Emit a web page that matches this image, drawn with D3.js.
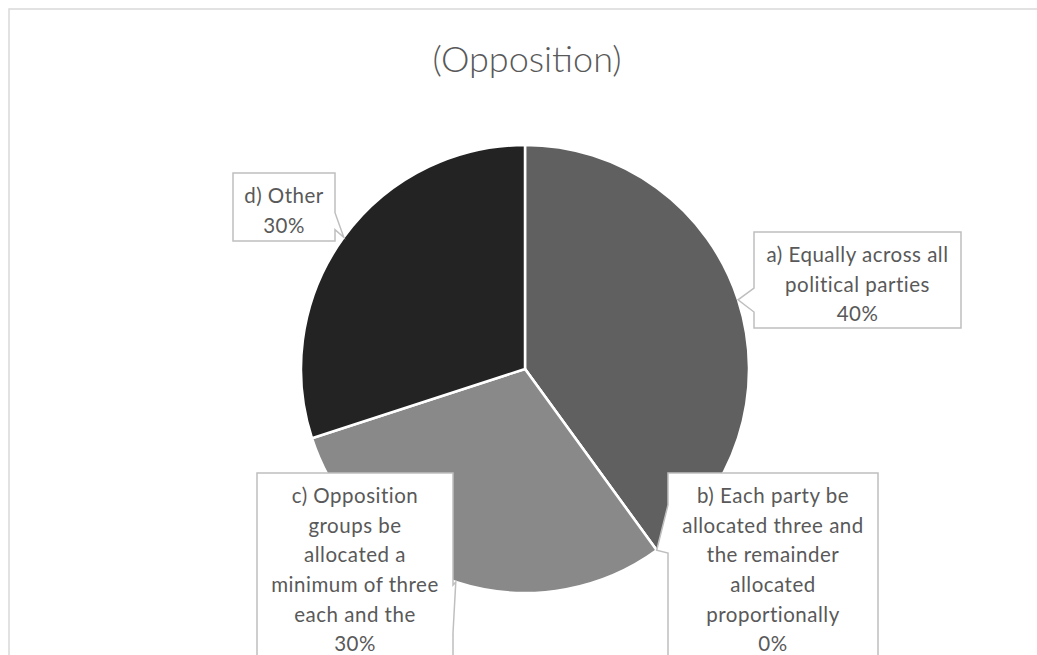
<!DOCTYPE html>
<html>
<head>
<meta charset="utf-8">
<script src="https://cdn.jsdelivr.net/npm/d3@7"></script>
<style>
  html, body { margin: 0; padding: 0; background: #ffffff; }
  svg { display: block; }
  text { font-family: "Lato", "Open Sans", sans-serif; }
</style>
</head>
<body>
<svg id="chart" width="1037" height="655"></svg>
<script>
// ---- data ----
const title = "(Opposition)";
const categories = [
  "a) Equally across all political parties",
  "b) Each party be allocated three and the remainder allocated proportionally",
  "c) Opposition groups be allocated a minimum of three each and the",
  "d) Other"
];
const values = [40, 0, 30, 30];
const percentLabels = ["40%", "0%", "30%", "30%"];
const labelLines = [
  ["a) Equally across all", "political parties"],
  ["b) Each party be", "allocated three and", "the remainder", "allocated", "proportionally"],
  ["c) Opposition", "groups be", "allocated a", "minimum of three", "each and the"],
  ["d) Other"]
];

// ---- layout / style ----
const W = 1037, H = 655;
const cx = 525, cy = 369, R = 224;
const sliceColors = ["#606060", "#7a7a7a", "#898989", "#232323"];
const labelBoxes = [
  {x: 754, y: 232, w: 207, h: 96},
  {x: 668, y: 473, w: 210, h: 192},
  {x: 257, y: 473, w: 196, h: 192},
  {x: 233, y: 173, w: 102, h: 68}
];

const svg = d3.select("#chart");

// outer chart border
svg.append("rect")
  .attr("x", 9).attr("y", 9)
  .attr("width", W + 20).attr("height", H + 20)
  .attr("fill", "#ffffff")
  .attr("stroke", "#d9d9d9").attr("stroke-width", 1.5);

// title
svg.append("text")
  .attr("x", 527).attr("y", 72)
  .attr("text-anchor", "middle")
  .attr("font-size", 36)
  .attr("font-weight", 300)
  .attr("fill", "#595959")
  .text(title);

// pie
const pie = d3.pie().sort(null).value(d => d);
const arcs = pie(values);
const arc = d3.arc().innerRadius(0).outerRadius(R);

const g = svg.append("g").attr("transform", `translate(${cx},${cy})`);
g.selectAll("path.slice")
  .data(arcs)
  .join("path")
  .attr("class", "slice")
  .attr("d", arc)
  .attr("fill", (d, i) => sliceColors[i])
  .attr("stroke", "#ffffff")
  .attr("stroke-width", 2.5)
  .attr("stroke-linejoin", "round");

// callouts (OOXML wedgeRectCallout geometry)
function calloutPath(b, tx, ty) {
  const l = b.x, t = b.y, r = b.x + b.w, bt = b.y + b.h;
  const w = b.w, h = b.h;
  const hc = l + w / 2, vc = t + h / 2;
  const dxPos = tx - hc, dyPos = ty - vc;
  const dq = dxPos * h / w;
  const dz = Math.abs(dyPos) - Math.abs(dq);
  const x1 = l + w * (dxPos > 0 ? 7 : 2) / 12;
  const x2 = l + w * (dxPos > 0 ? 10 : 5) / 12;
  const y1 = t + h * (dyPos > 0 ? 7 : 2) / 12;
  const y2 = t + h * (dyPos > 0 ? 10 : 5) / 12;
  const p = d3.path();
  p.moveTo(l, t);
  if (dz > 0 && dyPos < 0) { p.lineTo(x1, t); p.lineTo(tx, ty); p.lineTo(x2, t); }
  p.lineTo(r, t);
  if (dz <= 0 && dxPos > 0) { p.lineTo(r, y1); p.lineTo(tx, ty); p.lineTo(r, y2); }
  p.lineTo(r, bt);
  if (dz > 0 && dyPos > 0) { p.lineTo(x2, bt); p.lineTo(tx, ty); p.lineTo(x1, bt); }
  p.lineTo(l, bt);
  if (dz <= 0 && dxPos < 0) { p.lineTo(l, y2); p.lineTo(tx, ty); p.lineTo(l, y1); }
  p.closePath();
  return p.toString();
}

const labelsG = svg.append("g");
arcs.forEach((a, i) => {
  const mid = (a.startAngle + a.endAngle) / 2;
  const tx = cx + R * Math.sin(mid);
  const ty = cy - R * Math.cos(mid);
  const b = labelBoxes[i];
  labelsG.append("path")
    .attr("d", calloutPath(b, tx, ty))
    .attr("fill", "#ffffff")
    .attr("stroke", "#bfbfbf")
    .attr("stroke-width", 1.5)
    .attr("stroke-linejoin", "miter");
  const lines = labelLines[i].concat([percentLabels[i]]);
  const t = labelsG.append("text")
    .attr("text-anchor", "middle")
    .attr("font-size", 20.5)
    .attr("letter-spacing", 0.5)
    .attr("fill", "#595959");
  lines.forEach((ln, k) => {
    t.append("tspan")
      .attr("x", b.x + b.w / 2)
      .attr("y", b.y + 23 + k * 29.6)
      .attr("dy", "0.35em")
      .text(ln);
  });
});
</script>
</body>
</html>
